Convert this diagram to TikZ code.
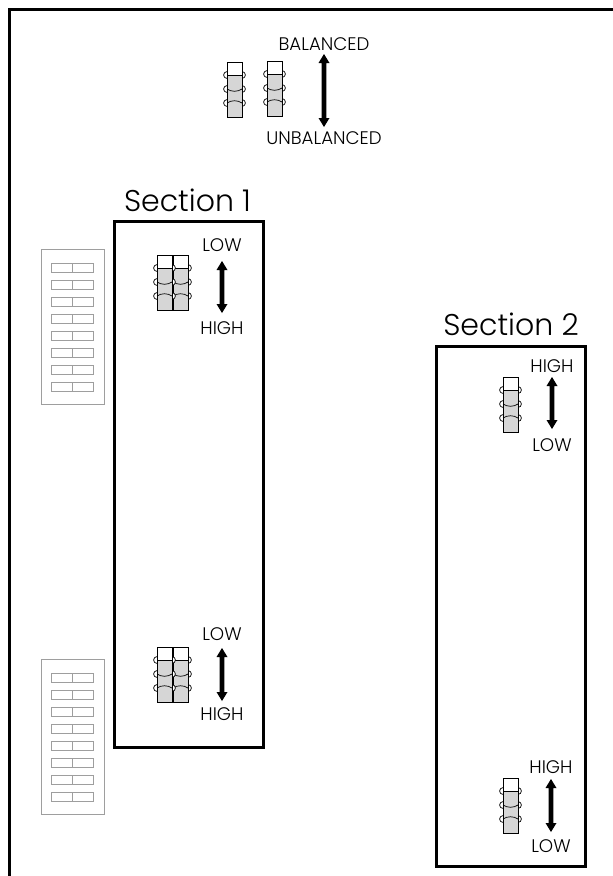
\documentclass[tikz,border=0pt]{standalone}
\usepackage{fontspec}
\setmainfont{Poppins}[UprightFont={* Light}]
\definecolor{jgray}{gray}{0.84}
\definecolor{dgray}{gray}{0.62}
\tikzset{
 x=1pt,y=-1pt,
 frameline/.style={draw=black,line width=3pt},
 secbox/.style={draw=black,line width=3pt},
 lbl/.style={inner sep=0pt,font=\fontsize{18.2}{19}\selectfont},
 sectitle/.style={inner sep=0pt,font=\fontsize{30}{31}\selectfont},
 jtop/.style={draw=black,line width=1pt,fill=white},
 jbot/.style={draw=black,line width=1pt,fill=jgray},
 wire/.style={draw=black,line width=.7pt},
}
\newcommand{\jmp}[2]{%
 \begin{scope}[shift={(#1,#2)}]
  \foreach \yy in {13,27,41}{\draw[wire,fill=white] (0,\yy) circle (3.4pt); \draw[wire,fill=white] (15,\yy) circle (3.4pt);}
  \draw[jtop] (0,0) rectangle (15,13);
  \draw[jbot] (0,13) rectangle (15,55);
  \draw[wire] (0,27) .. controls (4,30) and (11,30) .. (15,27);
  \draw[wire] (0,41) .. controls (4,38) and (11,38) .. (15,41);
 \end{scope}}
\newcommand{\dip}[2]{%
 \begin{scope}[shift={(#1,#2)}]
  \draw[dgray,line width=.9pt] (0,0) rectangle (63,155);
  \foreach \k in {0,...,7}{
   \draw[dgray,line width=.9pt] (10,{14+17.1*\k}) rectangle (52,{23+17.1*\k});
   \draw[dgray,line width=.9pt] (31,{14+17.1*\k}) -- (31,{23+17.1*\k});
  }
 \end{scope}}
\newcommand{\darr}[3]{%
 \fill (#1,#2) -- (#1+5.5,#2+9) -- (#1+2.3,#2+9) -- (#1+2.3,#3-9) -- (#1+5.5,#3-9) -- (#1,#3) -- (#1-5.5,#3-9) -- (#1-2.3,#3-9) -- (#1-2.3,#2+9) -- (#1-5.5,#2+9) -- cycle;}
\begin{document}
\begin{tikzpicture}
\useasboundingbox (0,0) rectangle (613,876);
\fill[white] (0,0) rectangle (613,876);
\draw[frameline] (9.5,876) -- (9.5,9.5) -- (613,9.5);
\draw[secbox] (114.5,221.5) rectangle (263,747.5);
\draw[secbox] (436,346.5) rectangle (585,866);
\node[sectitle] (s1) at (187.5,200) {Section 1};
\node[sectitle] (s2) at (511,324) {Section 2};
\dip{41}{249}
\dip{41}{659}
\jmp{227}{62}
\jmp{267}{61}
\darr{324}{54}{127}
\node[lbl] (b) at (324,44) {BALANCED};
\node[lbl] (u) at (324,138) {UNBALANCED};
\jmp{173}{255}
\jmp{157}{255}
\darr{222}{261}{313}
\node[lbl] (l1) at (222,245) {LOW};
\node[lbl] (h1) at (222,328) {HIGH};
\jmp{173}{647}
\jmp{157}{647}
\darr{222}{648}{701}
\node[lbl] (l2) at (222,634) {LOW};
\node[lbl] (h2) at (222,714) {HIGH};
\jmp{503}{377}
\darr{552}{377}{429}
\node[lbl] (h3) at (552,366) {HIGH};
\node[lbl] (l3) at (552,445) {LOW};
\jmp{503}{778}
\darr{551}{779}{832}
\node[lbl] (h4) at (551,767) {HIGH};
\node[lbl] (l4) at (551,846) {LOW};
\end{tikzpicture}
\end{document}
